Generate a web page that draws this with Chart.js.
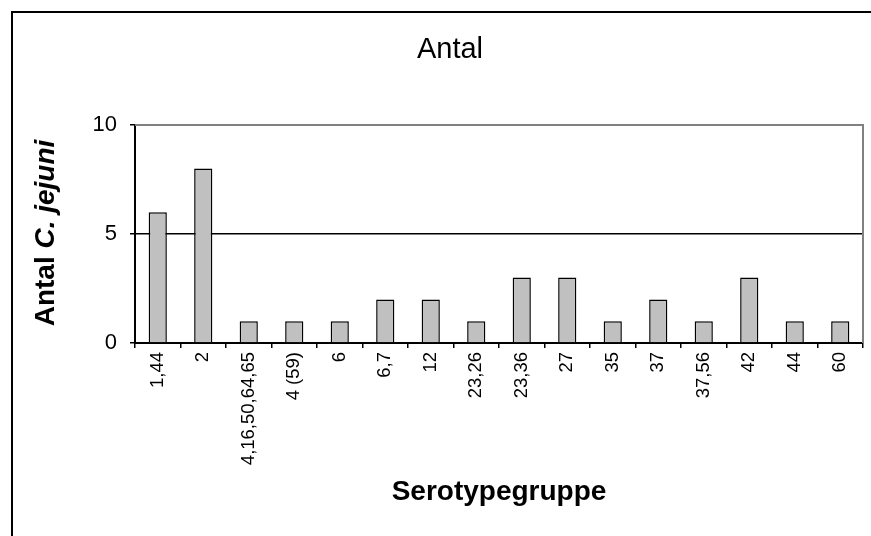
<!DOCTYPE html>
<html>
<head>
<meta charset="utf-8">
<script src="https://cdn.jsdelivr.net/npm/chart.js@4"></script>
<style>
  body { margin: 0; background: #fff; }
  canvas { display: block; }
</style>
</head>
<body>
<canvas id="myChart" width="871" height="536"></canvas>
<script>
var labels = ['1,44', '2', '4,16,50,64,65', '4 (59)', '6', '6,7', '12', '23,26',
  '23,36', '27', '35', '37', '37,56', '42', '44', '60'];
var counts = [6, 8, 1, 1, 1, 2, 2, 1, 3, 3, 1, 2, 1, 3, 1, 1];
var yTicks = [0, 5, 10];

var FONT = '"Liberation Sans", Arial, sans-serif';

// frame, plot border and titles (Excel look)
var decor = {
  id: 'decor',
  beforeDraw: function(chart) {
    var ctx = chart.ctx;
    ctx.save();
    ctx.fillStyle = '#fff';
    ctx.fillRect(0, 0, chart.width, chart.height);
    ctx.restore();
  },
  afterDraw: function(chart) {
    var ctx = chart.ctx, a = chart.chartArea;
    ctx.save();
    ctx.strokeStyle = '#808080';
    ctx.lineWidth = 2;
    ctx.beginPath();
    ctx.moveTo(a.left, a.top);
    ctx.lineTo(a.right, a.top);
    ctx.lineTo(a.right, a.bottom);
    ctx.stroke();

    ctx.strokeStyle = '#000';
    ctx.beginPath();
    ctx.moveTo(12, chart.height);
    ctx.lineTo(12, 12);
    ctx.lineTo(chart.width, 12);
    ctx.stroke();

    ctx.fillStyle = '#000';
    ctx.textAlign = 'center';
    ctx.textBaseline = 'alphabetic';
    ctx.font = '29px ' + FONT;
    ctx.fillText('Antal', 450, 58);

    ctx.font = 'bold 28px ' + FONT;
    ctx.fillText('Serotypegruppe', 499, 500);

    // y title: "Antal" bold, "C. jejuni" bold italic
    ctx.translate(54, 233);
    ctx.rotate(-Math.PI / 2);
    ctx.textAlign = 'left';
    var p1 = 'Antal ', p2 = 'C. jejuni';
    ctx.font = 'bold 28px ' + FONT;
    var w1 = ctx.measureText(p1).width;
    ctx.font = 'italic bold 28px ' + FONT;
    var w2 = ctx.measureText(p2).width;
    var x0 = -(w1 + w2) / 2;
    ctx.font = 'bold 28px ' + FONT;
    ctx.fillText(p1, x0, 0);
    ctx.font = 'italic bold 28px ' + FONT;
    ctx.fillText(p2, x0 + w1, 0);
    ctx.restore();
  }
};

var ctx = document.getElementById('myChart');
var myChart = new Chart(ctx, {
  type: 'bar',
  data: {
    labels: labels,
    datasets: [{
      label: 'Antal',
      data: counts,
      backgroundColor: '#c0c0c0',
      borderColor: '#000',
      borderWidth: 1.5,
      categoryPercentage: 1,
      barPercentage: 0.4
    }]
  },
  options: {
    responsive: false,
    animation: false,
    layout: { padding: { top: 125, right: 8, left: 0, bottom: 0 } },
    plugins: {
      legend: { display: false },
      title: { display: false },
      tooltip: { enabled: false }
    },
    scales: {
      x: {
        afterFit: function(s) { s.height = 193; },
        ticks: {
          autoSkip: false,
          minRotation: 90,
          maxRotation: 90,
          padding: 4,
          color: '#000',
          font: { family: FONT, size: 18.5 }
        },
        grid: {
          offset: true,
          color: 'rgba(0,0,0,0)',
          tickColor: '#000',
          tickLength: 5,
          lineWidth: 1.5
        },
        border: { color: '#000', width: 2 }
      },
      y: {
        min: 0,
        max: 10,
        afterFit: function(s) { s.width = 135; },
        afterBuildTicks: function(s) {
          s.ticks = yTicks.map(function(v) { return { value: v }; });
        },
        ticks: {
          padding: 13,
          color: '#000',
          font: { family: FONT, size: 22 }
        },
        grid: {
          color: function(c) { return c.tick && c.tick.value === 5 ? '#000' : 'rgba(0,0,0,0)'; },
          tickColor: '#000',
          tickLength: 5,
          lineWidth: 1.5
        },
        border: { color: '#000', width: 2 }
      }
    }
  },
  plugins: [decor]
});
</script>
</body>
</html>
